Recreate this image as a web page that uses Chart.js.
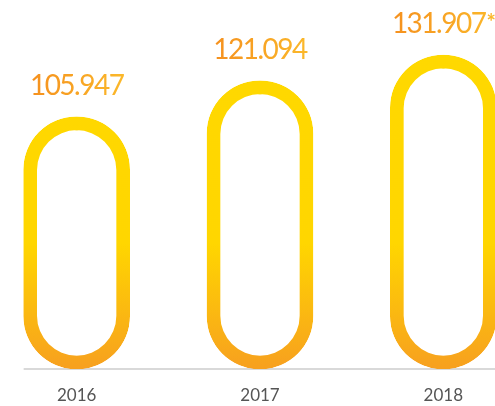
<!DOCTYPE html>
<html>
<head>
<meta charset="utf-8">
<script src="https://cdn.jsdelivr.net/npm/chart.js@4.4.0/dist/chart.umd.min.js"></script>
<style>
  html, body { margin: 0; padding: 0; background: #fff; overflow: hidden; }
  body { width: 495px; height: 406px; position: relative; }
  #wrap { position: absolute; left: -15px; top: 0; width: 550px; height: 406px; }
</style>
</head>
<body>
<div id="wrap"><canvas id="myChart"></canvas></div>
<script>
const years = ['2016', '2017', '2018'];
const values = [105947, 121094, 131907];
const notes = ['', '', '*'];

// 105947 -> "105.947"
function formatValue(v) {
    return String(v).replace(/\B(?=(\d{3})+(?!\d))/g, '.');
}

function pillGradient(chart) {
    const area = chart.chartArea;
    if (!area) return '#FFD900';
    const g = chart.ctx.createLinearGradient(0, area.top, 0, area.bottom);
    g.addColorStop(0, '#FFD900');
    g.addColorStop(0.66, '#FFD600');
    g.addColorStop(1, '#F7A01F');
    return g;
}

// grey line under the bars, starting at the first bar
const baseline = {
    id: 'baseline',
    beforeDatasetsDraw(chart) {
        const ctx = chart.ctx;
        const bars = chart.getDatasetMeta(0).data;
        const y = chart.chartArea.bottom;
        ctx.save();
        ctx.strokeStyle = '#cccccc';
        ctx.lineWidth = 1.5;
        ctx.beginPath();
        ctx.moveTo(bars[0].x - bars[0].width / 2, y);
        ctx.lineTo(chart.width, y);
        ctx.stroke();
        ctx.restore();
    }
};

const numFont = '400 28px Lato';
const noteFont = '700 22px Lato';

// value labels above each bar
const valueLabels = {
    id: 'valueLabels',
    afterDatasetsDraw(chart) {
        const ctx = chart.ctx;
        const bars = chart.getDatasetMeta(0).data;
        ctx.save();
        ctx.textBaseline = 'alphabetic';
        ctx.textAlign = 'left';
        bars.forEach((bar, i) => {
            const text = formatValue(values[i]);
            ctx.font = numFont;
            ctx.letterSpacing = '-1.5px';
            const w = ctx.measureText(text).width;
            ctx.font = noteFont;
            ctx.letterSpacing = '0px';
            const nw = notes[i] ? ctx.measureText(notes[i]).width : 0;
            const left = bar.x - (w + nw) / 2;
            const y = bar.y - 22;
            const g = ctx.createLinearGradient(left, 0, left + w + nw, 0);
            g.addColorStop(0, '#F5901E');
            g.addColorStop(1, '#FBB82A');
            ctx.fillStyle = g;
            ctx.font = numFont;
            ctx.letterSpacing = '-1.5px';
            ctx.fillText(text, left, y);
            if (notes[i]) {
                ctx.font = noteFont;
                ctx.letterSpacing = '0px';
                ctx.fillText(notes[i], left + w + 1, y - 3);
            }
        });
        ctx.restore();
    }
};

new Chart(document.getElementById('myChart'), {
    type: 'bar',
    data: {
        labels: years,
        datasets: [{
            data: values,
            backgroundColor: 'rgba(0,0,0,0)',
            borderColor: (c) => pillGradient(c.chart),
            borderWidth: 13,
            borderSkipped: false,
            borderRadius: 200,
            barThickness: 106
        }]
    },
    options: {
        responsive: true,
        maintainAspectRatio: false,
        animation: false,
        layout: { padding: 0 },
        plugins: {
            legend: { display: false },
            tooltip: { enabled: false }
        },
        scales: {
            x: {
                grid: { display: false, drawTicks: false },
                border: { display: false },
                ticks: {
                    color: '#555555',
                    font: { family: 'Lato', size: 17 },
                    padding: 16
                },
                afterFit: (scale) => { scale.height = 37; }
            },
            y: {
                display: false,
                min: 0,
                max: 155000
            }
        }
    },
    plugins: [baseline, valueLabels]
});
</script>
</body>
</html>
